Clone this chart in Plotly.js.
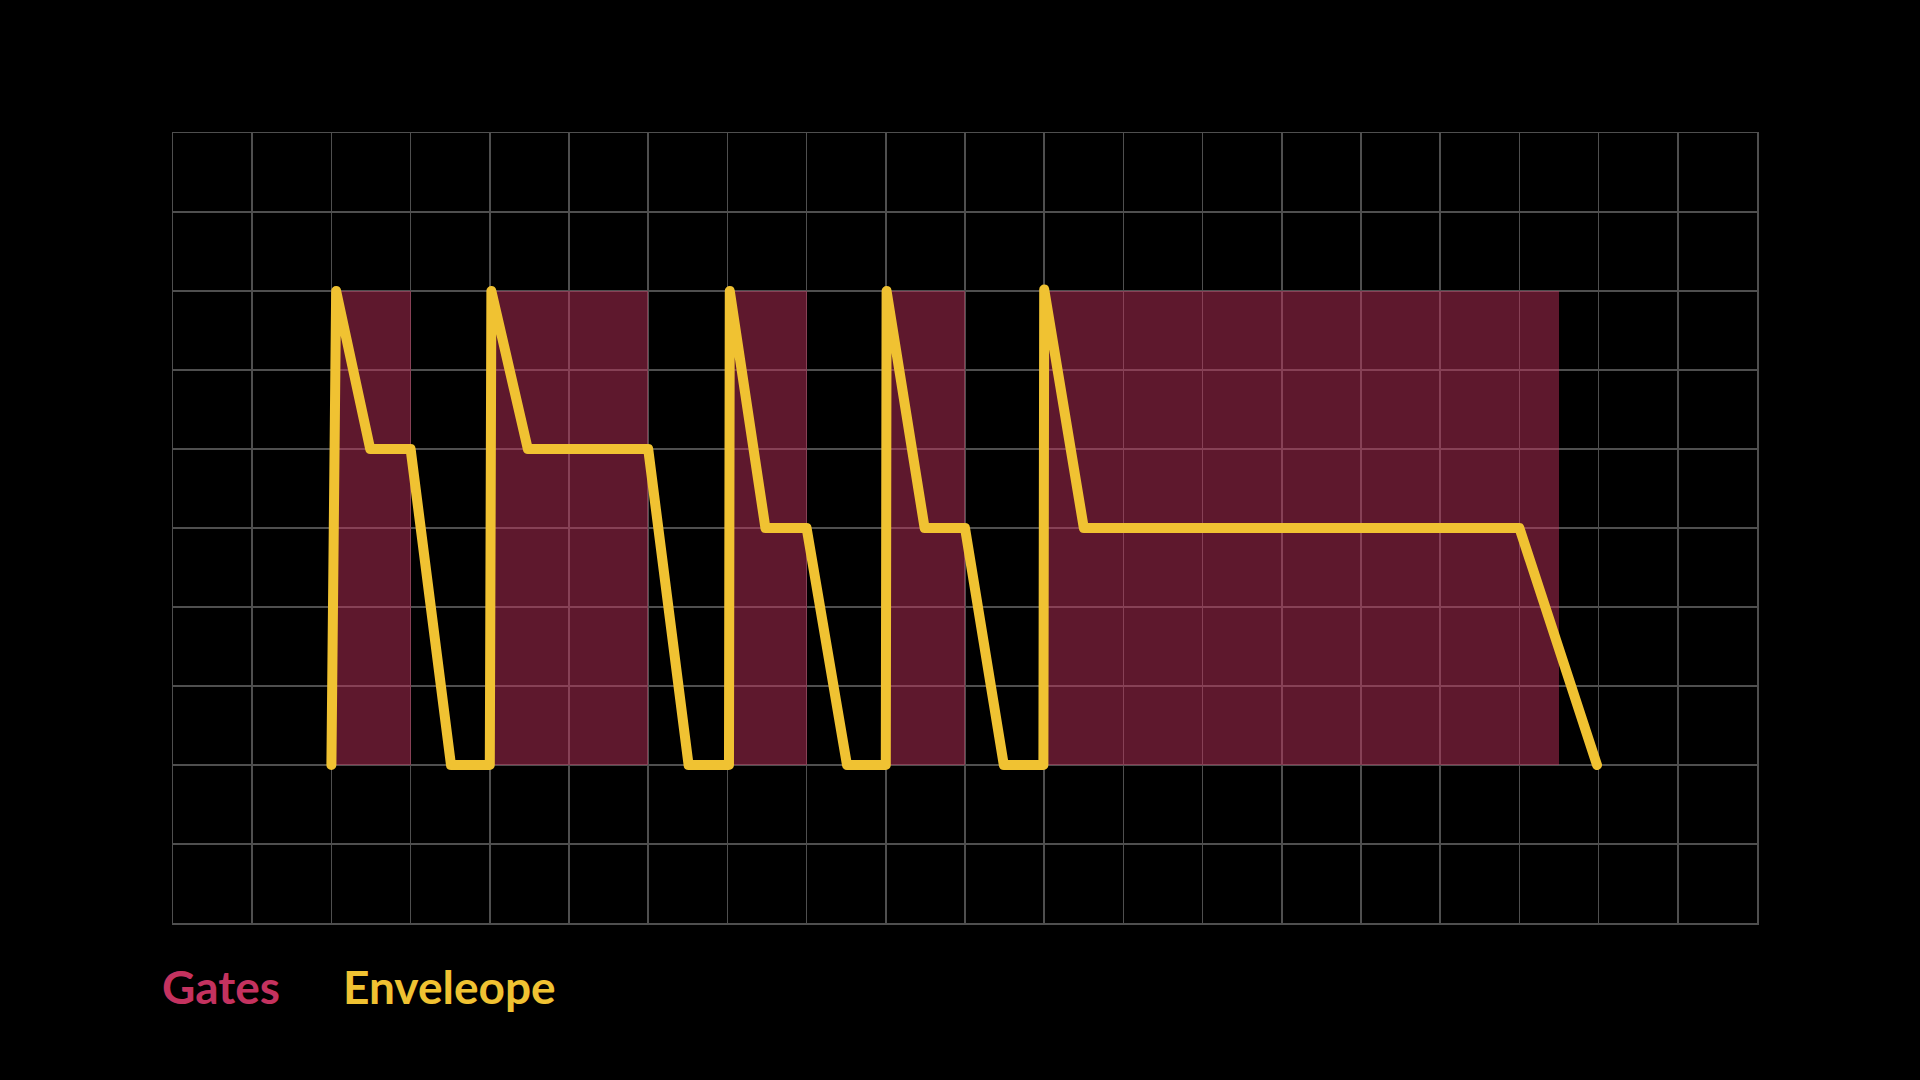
<!DOCTYPE html>
<html>
<head>
<meta charset="utf-8">
<script src="https://cdn.plot.ly/plotly-3.0.1.min.js"></script>
<style>
  html, body { margin: 0; padding: 0; background: #000; }
  #chart { width: 1920px; height: 1080px; }
  #chart .scatterlayer .js-line { stroke-linejoin: round !important; stroke-linecap: round !important; }
</style>
</head>
<body>
<div id="chart"></div>
<script>
// Gate (on) intervals
const gateStart = [2.05, 4.0, 7.03, 9.0, 11.0];
const gateEnd   = [3.0, 6.0, 8.0, 10.0, 17.5];
const gateLow = 2;
const gateHigh = 8;

// Envelope points
const envX = [2.0, 2.06, 2.49, 3.0, 3.51, 4.0, 4.02, 4.48, 6.0, 6.51, 7.02, 7.03, 7.48, 8.0, 8.51, 9.0, 9.01, 9.49, 10.0, 10.49, 10.99, 11.0, 11.5, 17.0, 17.98];
const envY = [2.0, 8.0, 6.0, 6.0, 2.0, 2.0, 8.0, 6.0, 6.0, 2.0, 2.0, 8.0, 5.0, 5.0, 2.0, 2.0, 8.0, 5.0, 5.0, 2.0, 2.0, 8.02, 5.0, 5.0, 2.0];

const legendLabels = ["Gates", "Enveleope"];

const gateColor = "#c4325f";
const envColor = "#f0c232";

const gates = {
  type: "bar",
  x: gateStart,
  width: gateStart.map((s, i) => gateEnd[i] - s),
  offset: 0,
  base: gateStart.map(() => gateLow),
  y: gateStart.map(() => gateHigh - gateLow),
  marker: { color: "rgba(196,50,95,0.48)", line: { width: 0 } },
  hoverinfo: "skip",
  showlegend: false
};

const env = {
  type: "scatter",
  mode: "lines",
  x: envX,
  y: envY,
  line: { color: envColor, width: 10, shape: "linear" },
  hoverinfo: "skip",
  showlegend: false
};

const gridColor = "#4f4f4f";

const layout = {
  width: 1920,
  height: 1080,
  paper_bgcolor: "#000",
  plot_bgcolor: "#000",
  margin: { l: 173, r: 163, t: 133, b: 157 },
  bargap: 0,
  xaxis: {
    range: [0, 20], dtick: 1, tick0: 0,
    showgrid: true, gridcolor: gridColor, gridwidth: 1.5,
    showticklabels: false, ticks: "", zeroline: false,
    showline: true, linecolor: gridColor, linewidth: 1.5, mirror: true,
    fixedrange: true
  },
  yaxis: {
    range: [0, 10], dtick: 1, tick0: 0,
    showgrid: true, gridcolor: gridColor, gridwidth: 1.5,
    showticklabels: false, ticks: "", zeroline: false,
    showline: true, linecolor: gridColor, linewidth: 1.5, mirror: true,
    fixedrange: true
  },
  annotations: [
    {
      text: legendLabels[0], xref: "paper", yref: "paper",
      x: -0.008, y: -0.08, xanchor: "left", yanchor: "middle", showarrow: false,
      font: { family: "Lato, 'Open Sans', sans-serif", size: 46, color: gateColor, weight: 700 }
    },
    {
      text: legendLabels[1], xref: "paper", yref: "paper",
      x: (341 - 173) / 1584, y: -0.08, xanchor: "left", yanchor: "middle", showarrow: false,
      font: { family: "Lato, 'Open Sans', sans-serif", size: 46, color: envColor, weight: 700 }
    }
  ]
};

Plotly.newPlot("chart", [gates, env], layout, { displayModeBar: false, staticPlot: true }).then(() => {
  document.querySelectorAll("#chart .scatterlayer .js-line").forEach(p => {
    p.style.strokeLinejoin = "round";
    p.style.strokeLinecap = "round";
  });
});
</script>
</body>
</html>
